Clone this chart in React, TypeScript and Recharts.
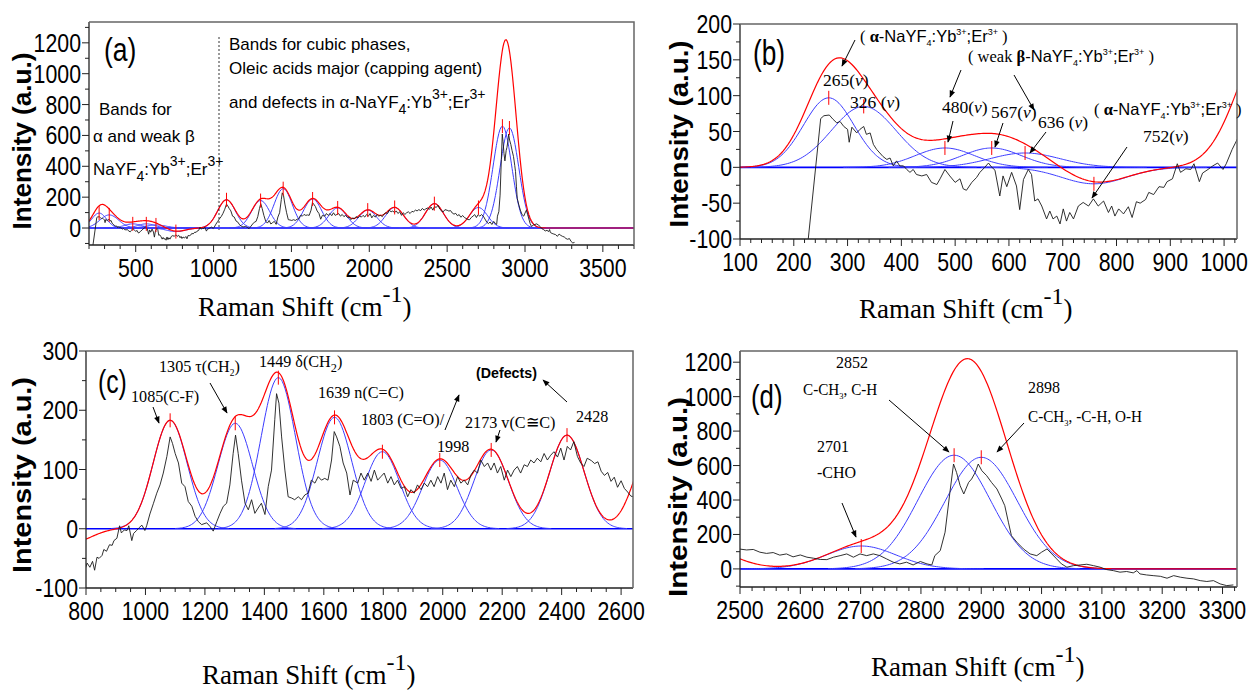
import React from 'react';
import { ComposedChart, Line, Scatter, XAxis, YAxis, ReferenceLine } from 'recharts';

// fitted bands: centre (cm-1), height (a.u.), sigma (cm-1)
const peakCenters = [265, 330, 481, 568, 630, 758, 1083, 1302, 1447, 1636, 1797, 1990, 2163, 2418, 2701, 2855, 2900];
const peakHeights = [97, 85, 27, 27, 20, -23, 183, 178, 255, 188, 130, 116, 133, 158, 133, 660, 648];
const peakWidths = [47, 60, 55, 55, 65, 60, 57, 58, 58, 58, 58, 58, 58, 58, 58, 60, 60];

// measured Raman spectrum [shift, intensity]
const spectrumLow: [number, number][] = [
  [224, -121], [250, 68], [256, 72], [266, 73], [273, 67], [280, 62], [286, 64], [293, 57], [300, 53], [303, 35],
  [308, 56], [317, 48], [323, 53], [330, 57], [335, 46], [342, 48], [348, 32], [354, 25], [360, 20], [366, 15],
  [373, 11], [379, 13], [385, 2], [391, 9], [397, 2], [404, 2], [410, -3], [416, -7], [422, -3], [428, -10],
  [438, -12], [447, -10], [456, -21], [466, -24], [472, -16], [481, -3], [490, -12], [500, -21], [509, -16], [515, -30],
  [521, -32], [531, -21], [540, -14], [546, -7], [555, 0], [562, 6], [567, 1], [574, -4], [583, -40], [589, -12],
  [596, -27], [605, -7], [614, -26], [620, -59], [627, -17], [636, -3], [642, -10], [648, -47], [654, -44], [661, -54],
  [670, -72], [676, -61], [682, -72], [689, -68], [695, -79], [701, -58], [707, -75], [713, -63], [720, -72], [729, -54],
  [738, -49], [748, -54], [757, -44], [766, -54], [776, -47], [785, -63], [791, -54], [797, -68], [804, -58], [813, -65],
  [822, -55], [829, -70], [837, -48], [844, -50], [854, -45], [860, -35], [869, -38], [879, -27], [888, -28], [894, -20],
  [904, -16], [913, 5], [919, -7], [929, -2], [938, -3], [944, 5], [954, -20], [960, -8], [970, -3], [979, 2],
  [988, 6], [998, -3], [1004, 5], [1015, 25], [1027, 43],
];
const spectrumMid: [number, number][] = [
  [1038, 60], [1049, 74], [1060, 94], [1072, 122], [1083, 155], [1091, 144], [1100, 127], [1111, 111], [1122, 77], [1133, 71],
  [1144, 46], [1156, 38], [1167, 21], [1178, 12], [1189, 7], [1206, 10], [1217, 4], [1228, -4], [1240, 12], [1251, 26],
  [1262, 38], [1273, 43], [1284, 74], [1295, 127], [1303, 158], [1312, 127], [1323, 82], [1335, 43], [1346, 32], [1357, 49],
  [1368, 26], [1379, 35], [1390, 43], [1402, 24], [1413, 71], [1424, 99], [1435, 184], [1441, 228], [1449, 212], [1458, 155],
  [1469, 99], [1480, 54], [1491, 52], [1502, 49], [1514, 54], [1525, 49], [1536, 57], [1547, 60], [1558, 82], [1570, 77],
  [1581, 88], [1592, 82], [1603, 85], [1614, 82], [1626, 116], [1635, 164], [1643, 155], [1654, 139], [1665, 111], [1677, 94],
  [1688, 57], [1699, 82], [1714, 77], [1725, 94], [1736, 82], [1748, 94], [1759, 80], [1770, 99], [1781, 82], [1792, 88],
  [1803, 94], [1815, 77], [1826, 88], [1837, 74], [1848, 82], [1860, 68], [1871, 71], [1882, 54], [1893, 66], [1904, 60],
  [1915, 74], [1927, 66], [1938, 77], [1949, 71], [1960, 82], [1971, 71], [1983, 88], [1994, 77], [2005, 94], [2016, 66],
  [2027, 82], [2039, 71], [2050, 88], [2061, 77], [2072, 82], [2084, 74], [2095, 91], [2106, 99], [2117, 94], [2128, 116],
  [2140, 105], [2151, 111], [2162, 99], [2173, 111], [2184, 94], [2195, 105], [2207, 82], [2218, 99], [2229, 88], [2240, 99],
  [2251, 105], [2262, 94], [2274, 108], [2285, 105], [2296, 116], [2307, 111], [2318, 119], [2330, 113], [2341, 127], [2352, 116],
  [2363, 124], [2374, 130], [2386, 121], [2397, 136], [2408, 116], [2419, 139], [2430, 133], [2441, 147], [2453, 122], [2464, 111],
  [2475, 105], [2486, 119],
];
const spectrumHigh: [number, number][] = [
  [2500, 115], [2511, 110], [2522, 113], [2533, 97], [2544, 90], [2555, 95], [2566, 80], [2577, 87], [2588, 70], [2600, 81],
  [2611, 68], [2622, 62], [2633, 55], [2644, 54], [2655, 68], [2666, 77], [2677, 87], [2688, 68], [2699, 87], [2710, 77],
  [2721, 87], [2732, 77], [2743, 58], [2754, 39], [2765, 29], [2776, 39], [2787, 23], [2799, 43], [2810, 29], [2818, 23],
  [2823, 77], [2832, 106], [2840, 213], [2848, 444], [2854, 609], [2859, 560], [2865, 483], [2871, 435], [2879, 502], [2884, 522],
  [2890, 560], [2895, 609], [2901, 570], [2909, 541], [2917, 502], [2926, 464], [2934, 406], [2939, 367], [2945, 271], [2950, 193],
  [2959, 155], [2970, 116], [2981, 87], [2992, 77], [3000, 97], [3009, 116], [3017, 87], [3025, 58], [3033, 29], [3042, 10],
  [3053, 19], [3064, 23], [3075, 27], [3086, 19], [3097, 10], [3108, -4], [3119, -10], [3130, -19], [3141, -15], [3152, -23],
  [3158, -10], [3163, -29], [3174, -35], [3185, -39], [3197, -43], [3208, -54], [3219, -39], [3230, -48], [3241, -54], [3252, -58],
  [3263, -68], [3274, -73], [3285, -68], [3296, -87], [3307, -97], [3318, -93],
];
const spectrum = [...spectrumLow, ...spectrumMid, ...spectrumHigh];

// tick labels per panel
const xTicksA = [500, 1000, 1500, 2000, 2500, 3000, 3500];
const yTicksA = [0, 200, 400, 600, 800, 1000, 1200];
const xTicksB = [100, 200, 300, 400, 500, 600, 700, 800, 900, 1000];
const yTicksB = [-100, -50, 0, 50, 100, 150, 200];
const xTicksC = [800, 1000, 1200, 1400, 1600, 1800, 2000, 2200, 2400, 2600];
const yTicksC = [-100, 0, 100, 200, 300];
const xTicksD = [2500, 2600, 2700, 2800, 2900, 3000, 3100, 3200, 3300];
const yTicksD = [0, 200, 400, 600, 800, 1000, 1200];

const SANS = '"Liberation Sans", Arial, sans-serif';
const SERIF = '"Liberation Serif", "Times New Roman", serif';
const YW = 85;
const MT = 14;
const MR = 12;
const XH = 45;

type PanelCfg = {
  left: number; top: number; width: number; height: number;
  xDomain: [number, number]; yDomain: [number, number];
  xMajor: number[]; yMajor: number[]; xMinor: number; yMinor: number; step: number;
};

const panels: PanelCfg[] = [
  { left: 89, top: 22, width: 545, height: 223, xDomain: [200, 3700], yDomain: [-110, 1335], xMajor: xTicksA, yMajor: yTicksA, xMinor: 100, yMinor: 100, step: 8 },
  { left: 740, top: 24, width: 497, height: 215, xDomain: [100, 1024], yDomain: [-100, 200], xMajor: xTicksB, yMajor: yTicksB, xMinor: 20, yMinor: 25, step: 4 },
  { left: 86, top: 351, width: 547, height: 237, xDomain: [800, 2640], yDomain: [-100, 300], xMajor: xTicksC, yMajor: yTicksC, xMinor: 50, yMinor: 50, step: 5 },
  { left: 740, top: 351, width: 497, height: 236, xDomain: [2500, 3324], yDomain: [-105, 1265], xMajor: xTicksD, yMajor: yTicksD, xMinor: 20, yMinor: 100, step: 3 },
];

const gauss = (x: number, i: number) =>
  peakHeights[i] * Math.exp(-((x - peakCenters[i]) ** 2) / (2 * peakWidths[i] ** 2));

const range = (lo: number, hi: number, step: number) => {
  const out: number[] = [];
  for (let v = Math.ceil(lo / step) * step; v <= hi + 1e-9; v += step) out.push(v);
  return out;
};

function buildRows(cfg: PanelCfg) {
  const [lo, hi] = cfg.xDomain;
  const xs = new Set<number>(range(lo, hi, cfg.step));
  xs.add(hi);
  const spec = new Map<number, number>();
  spectrum.forEach(([x, y]) => {
    if (x >= lo - 15 && x <= hi + 15) {
      spec.set(x, y);
      xs.add(x);
    }
  });
  return [...xs].sort((a, b) => a - b).map((x) => {
    const row: Record<string, number | null> = { x, s: spec.has(x) ? (spec.get(x) as number) : null };
    let fit = 0;
    peakCenters.forEach((c, i) => {
      const v = gauss(x, i);
      fit += v;
      const shown = c >= lo && c <= hi && Math.abs(x - c) <= 3.5 * peakWidths[i];
      row['c' + i] = shown ? v : null;
    });
    row.fit = fit;
    return row;
  });
}

const makeXTick = (majors: number[]) => (p: any) => {
  const { x, y, payload } = p;
  const major = majors.includes(payload.value);
  return (
    <g>
      <line x1={x} x2={x} y1={y} y2={y + (major ? 7 : 4)} stroke="#222" strokeWidth={1} />
      {major && (
        <text transform={`translate(${x},${y + 32}) scale(0.82,1)`} textAnchor="middle" fontSize={26} fontFamily={SANS} fill="#000">
          {payload.value}
        </text>
      )}
    </g>
  );
};

const makeYTick = (majors: number[]) => (p: any) => {
  const { x, y, payload } = p;
  const major = majors.includes(payload.value);
  return (
    <g>
      <line x1={x - (major ? 7 : 4)} x2={x} y1={y} y2={y} stroke="#222" strokeWidth={1} />
      {major && (
        <text transform={`translate(${x - 8},${y + 9}) scale(0.82,1)`} textAnchor="end" fontSize={26} fontFamily={SANS} fill="#000">
          {payload.value}
        </text>
      )}
    </g>
  );
};

const markerShape = (p: any) => (
  <line x1={p.cx} x2={p.cx} y1={p.cy - 7} y2={p.cy + 7} stroke="#ff0000" strokeWidth={1} />
);

const Panel = ({ cfg }: { cfg: PanelCfg }) => {
  const rows = buildRows(cfg);
  const [lo, hi] = cfg.xDomain;
  const comps = peakCenters.map((c, i) => i).filter((i) => peakCenters[i] >= lo && peakCenters[i] <= hi);
  const markers = comps.map((i) => ({ x: peakCenters[i], y: peakHeights[i] }));
  return (
    <div style={{ position: 'absolute', left: cfg.left - YW, top: cfg.top - MT }}>
      <ComposedChart
        width={YW + cfg.width + MR}
        height={MT + cfg.height + XH}
        data={rows}
        margin={{ top: MT, right: MR, bottom: 0, left: 0 }}
      >
        <XAxis
          type="number"
          dataKey="x"
          domain={cfg.xDomain}
          allowDataOverflow
          ticks={range(lo, hi, cfg.xMinor)}
          interval={0}
          tickSize={0}
          tickMargin={0}
          tickLine={false}
          tick={makeXTick(cfg.xMajor)}
          axisLine={{ stroke: '#222', strokeWidth: 1.3 }}
          height={XH}
        />
        <YAxis
          type="number"
          domain={cfg.yDomain}
          allowDataOverflow
          ticks={range(cfg.yDomain[0], cfg.yDomain[1], cfg.yMinor)}
          interval={0}
          tickSize={0}
          tickMargin={0}
          tickLine={false}
          tick={makeYTick(cfg.yMajor)}
          axisLine={{ stroke: '#222', strokeWidth: 1.3 }}
          width={YW}
        />
        <ReferenceLine y={0} stroke="#0000ff" strokeWidth={1.6} />
        {comps.map((i) => (
          <Line
            key={i}
            type="linear"
            dataKey={'c' + i}
            stroke="#3c3cff"
            strokeWidth={1}
            dot={false}
            isAnimationActive={false}
          />
        ))}
        <Line type="linear" dataKey="fit" stroke="#ff0000" strokeWidth={1.2} dot={false} isAnimationActive={false} />
        <Line type="linear" dataKey="s" stroke="#1a1a1a" strokeWidth={0.9} dot={false} connectNulls isAnimationActive={false} />
        <Scatter data={markers} dataKey="y" shape={markerShape} isAnimationActive={false} />
      </ComposedChart>
    </div>
  );
};

type TP = {
  x: number; y: number; size: number; font?: string; sx?: number;
  weight?: string | number; anchor?: 'start' | 'middle' | 'end'; children: React.ReactNode;
};
const T = ({ x, y, size, font = SERIF, sx = 1, weight = 'normal', anchor = 'start', children }: TP) => (
  <text transform={`translate(${x},${y}) scale(${sx},1)`} fontSize={size} fontFamily={font} fontWeight={weight} textAnchor={anchor} fill="#000">
    {children}
  </text>
);

const Arrow = ({ x1, y1, x2, y2 }: { x1: number; y1: number; x2: number; y2: number }) => (
  <line x1={x1} y1={y1} x2={x2} y2={y2} stroke="#000" strokeWidth={1} markerEnd="url(#head)" />
);

// NaYF4:Yb3+;Er3+ with its sub- and superscripts; leaves the baseline raised by `lift`
const Formula = ({ s, lift, drop }: { s: number; lift: number; drop: number }) => (
  <>
    <tspan>NaYF</tspan>
    <tspan fontSize={s} dy={drop}>4</tspan>
    <tspan dy={-drop}>:Yb</tspan>
    <tspan fontSize={s} dy={-lift}>3+</tspan>
    <tspan dy={lift}>;Er</tspan>
    <tspan fontSize={s} dy={-lift}>3+</tspan>
  </>
);

const XTitle = ({ x, y }: { x: number; y: number }) => (
  <T x={x} y={y} size={27}>
    Raman Shift (cm<tspan fontSize={24} dy={-14}>-1</tspan><tspan dy={14}>)</tspan>
  </T>
);

const YTitle = ({ x, y, len }: { x: number; y: number; len: number }) => (
  <text
    transform={`translate(${x},${y}) rotate(-90)`}
    textAnchor="middle"
    fontSize={25}
    fontWeight="bold"
    fontFamily={SANS}
    textLength={len}
    lengthAdjust="spacingAndGlyphs"
    fill="#000"
  >
    Intensity (a.u.)
  </text>
);

const Overlay = () => (
  <svg width={1249} height={691} style={{ position: 'absolute', left: 0, top: 0, pointerEvents: 'none' }}>
    <defs>
      <marker id="head" viewBox="0 0 10 10" refX="9" refY="5" markerWidth="8" markerHeight="7" orient="auto" markerUnits="userSpaceOnUse">
        <path d="M0,1 L10,5 L0,9 z" fill="#000" />
      </marker>
    </defs>
    {panels.map((p, i) => (
      <path
        key={i}
        d={`M${p.left},${p.top} H${p.left + p.width} V${p.top + p.height}`}
        fill="none"
        stroke="#666"
        strokeWidth={1.5}
      />
    ))}

    {/* axis titles */}
    <YTitle x={31} y={141} len={177} />
    <YTitle x={688} y={134} len={187} />
    <YTitle x={31} y={475} len={196} />
    <YTitle x={687} y={497} len={200} />
    <XTitle x={198} y={316} />
    <XTitle x={859} y={318} />
    <XTitle x={202} y={684} />
    <XTitle x={871} y={676} />

    {/* (a) */}
    <T x={104} y={61} size={34} font={SANS} sx={0.78}>(a)</T>
    <line x1={219} y1={37} x2={219} y2={230} stroke="#000" strokeWidth={0.8} strokeDasharray="2 2" />
    <T x={229} y={50} size={17} font={SANS}>Bands for cubic phases,</T>
    <T x={229} y={74} size={17} font={SANS}>Oleic acids major (capping agent)</T>
    <T x={229} y={108} size={17} font={SANS}>
      and defects in α-<Formula s={14} lift={9} drop={6} />
    </T>
    <T x={99} y={115} size={17} font={SANS}>Bands for</T>
    <T x={93} y={142} size={17} font={SANS}>α and weak β</T>
    <T x={93} y={175} size={17} font={SANS}>
      <Formula s={14} lift={9} drop={6} />
    </T>

    {/* (b) */}
    <T x={753} y={65} size={35} font={SANS} sx={0.75}>(b)</T>
    <T x={860} y={42} size={16.5}>
      ( <tspan fontWeight="bold">α</tspan>
      <tspan fontFamily={SANS}>-<Formula s={9} lift={7} drop={4} /></tspan>
      <tspan dy={7}> )</tspan>
    </T>
    <Arrow x1={855} y1={40} x2={842} y2={66} />
    <T x={823} y={86} size={17.5}>265(<tspan fontStyle="italic">v</tspan>)</T>
    <T x={850} y={108} size={17.5}>326 (<tspan fontStyle="italic">v</tspan>)</T>
    <T x={968} y={62} size={16.5}>
      ( weak <tspan fontWeight="bold">β</tspan>
      <tspan fontFamily={SANS}>-<Formula s={9} lift={7} drop={4} /></tspan>
      <tspan dy={7}> )</tspan>
    </T>
    <Arrow x1={961} y1={70} x2={950} y2={97} />
    <Arrow x1={1014} y1={75} x2={1034} y2={110} />
    <T x={942} y={113} size={17.5}>480(<tspan fontStyle="italic">v</tspan>)</T>
    <Arrow x1={953} y1={121} x2={948} y2={142} />
    <T x={991} y={118} size={17.5}>567(<tspan fontStyle="italic">v</tspan>)</T>
    <Arrow x1={1003} y1={123} x2={995} y2={147} />
    <T x={1038} y={128} size={17.5}>636 (<tspan fontStyle="italic">v</tspan>)</T>
    <Arrow x1={1046} y1={132} x2={1030} y2={153} />
    <T x={1094} y={115} size={16.5}>
      ( <tspan fontWeight="bold">α</tspan>
      <tspan fontFamily={SANS}>-<Formula s={9} lift={7} drop={4} /></tspan>
      <tspan dy={7}> )</tspan>
    </T>
    <T x={1143} y={142} size={17.5}>752(<tspan fontStyle="italic">v</tspan>)</T>
    <Arrow x1={1127} y1={147} x2={1092} y2={198} />

    {/* (c) */}
    <T x={98} y={393} size={33} font={SANS} sx={0.75}>(c)</T>
    <T x={131} y={402} size={17} sx={0.95}>1085(C-F)</T>
    <Arrow x1={153} y1={407} x2={159} y2={423} />
    <T x={159} y={372} size={17} sx={0.95}>
      1305 τ(CH<tspan fontSize={10} dy={4}>2</tspan><tspan dy={-4}>)</tspan>
    </T>
    <Arrow x1={210} y1={383} x2={227} y2={413} />
    <T x={259} y={367} size={17} sx={0.95}>
      1449 δ(CH<tspan fontSize={13} dy={5}>2</tspan><tspan dy={-5}>)</tspan>
    </T>
    <T x={318} y={398} size={17} sx={0.95}>1639 n(C=C)</T>
    <T x={361} y={425} size={17} sx={0.95}>1803 (C=O)/</T>
    <Arrow x1={445} y1={430} x2={459} y2={395} />
    <T x={437} y={452} size={17} sx={0.95}>1998</T>
    <T x={465} y={428} size={17} sx={0.95}>2173 v(C≅C)</T>
    <Arrow x1={500} y1={430} x2={496} y2={442} />
    <T x={476} y={378} size={15} font={SANS} weight="bold" sx={0.95}>(Defects)</T>
    <Arrow x1={567} y1={402} x2={543} y2={380} />
    <T x={576} y={422} size={17} sx={0.95}>2428</T>

    {/* (d) */}
    <T x={751} y={408} size={33} font={SANS} sx={0.78}>(d)</T>
    <T x={836} y={368} size={16}>2852</T>
    <T x={803} y={395} size={16} sx={0.95}>
      C-CH<tspan fontSize={9} dy={4}>3</tspan><tspan dy={-4}>, C-H</tspan>
    </T>
    <Arrow x1={889} y1={400} x2={949} y2={452} />
    <T x={1028} y={393} size={16}>2898</T>
    <T x={1028} y={422} size={16} sx={0.95}>
      C-CH<tspan fontSize={9} dy={4}>3</tspan><tspan dy={-4}>, -C-H, O-H</tspan>
    </T>
    <Arrow x1={1024} y1={423} x2={997} y2={452} />
    <T x={817} y={452} size={16}>2701</T>
    <T x={817} y={478} size={16}>-CHO</T>
    <Arrow x1={842} y1={503} x2={856} y2={537} />
  </svg>
);

const App = () => (
  <div style={{ position: 'absolute', left: 0, top: 0, width: 1249, height: 691, background: '#fff', overflow: 'hidden' }}>
    {panels.map((cfg, i) => (
      <Panel key={i} cfg={cfg} />
    ))}
    <Overlay />
  </div>
);

export default App;
